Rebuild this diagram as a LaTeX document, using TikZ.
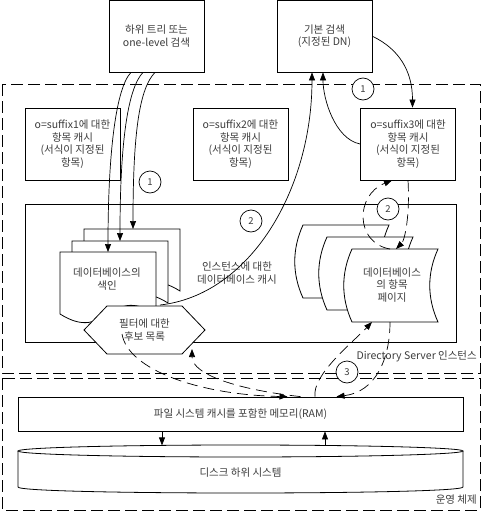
\documentclass[tikz,border=0pt]{standalone}
\usepackage{fontspec}
\setmainfont{Noto Sans CJK KR}
\usetikzlibrary{arrows.meta}
\definecolor{txt}{RGB}{60,60,60}
\tikzset{
  docpic/.pic={\draw[fill=white, line width=0.8pt] (0,0) -- (96,0) -- (96,62) .. controls (48,32) and (48,92) .. (0,62) -- cycle;},
  storepic/.pic={\draw[fill=white, line width=0.8pt] (0,0) -- (86,0) .. controls (75,24) and (75,49) .. (86,73) -- (0,73) .. controls (-11,49) and (-11,24) .. (0,0) -- cycle;}
}
\begin{document}
\begin{tikzpicture}[x=1pt,y=-1pt,
  lbl/.style={font=\fontsize{10.5}{12.5}\selectfont, text=txt, align=center, inner sep=0},
  box/.style={draw, fill=white, line width=0.8pt, lbl},
  shp/.style={draw, fill=white, line width=0.8pt},
  arr/.style={-{Triangle[length=8pt,width=6pt]}, line width=0.7pt},
  dsh/.style={dash pattern=on 12pt off 5pt, line width=0.8pt},
  darr/.style={arr, dash pattern=on 11pt off 6pt},
  num/.style={circle, draw, fill=white, line width=0.7pt, minimum size=22pt, inner sep=0, font=\fontsize{9.5}{10}\selectfont, text=txt}]
\useasboundingbox (0,0) rectangle (481,511);
% containers
\draw[dsh] (2,84) rectangle (480,373);
\draw[dsh] (2,378) rectangle (480,510);
\node[lbl, anchor=east] (dslbl) at (477,356) {Directory Server 인스턴스};
\node[lbl, anchor=east] (oslbl) at (477,500) {운영 체제};
% top boxes
\node[box, minimum width=95pt, minimum height=71.5pt] (A) at (156.5,36.25) {하위 트리 또는\\one-level 검색};
\node[box, minimum width=95pt, minimum height=71.5pt] (B) at (324.5,36.25) {기본 검색\\(지정된 DN)};
% entry caches
\node[box, minimum width=95pt, minimum height=72pt] (S1) at (72.5,144) {o=suffix1에 대한\\항목 캐시\\(서식이 지정된\\항목)};
\node[box, minimum width=95pt, minimum height=72pt] (S2) at (240.5,144) {o=suffix2에 대한\\항목 캐시\\(서식이 지정된\\항목)};
\node[box, minimum width=95pt, minimum height=72pt] (S3) at (408,144) {o=suffix3에 대한\\항목 캐시\\(서식이 지정된\\항목)};
% database cache
\node[shp, minimum width=431pt, minimum height=138pt] (cache) at (240.5,273) {};
\node[lbl] (cachelbl) at (237,273) {인스턴스에 대한\\데이터베이스 캐시};
% index documents
\pic at (84,229) {docpic};
\pic at (72,241) {docpic};
\pic at (60,252) {docpic};
\node[lbl] (idx) at (107,279) {데이터베이스의\\색인};
% entry pages
\pic at (303,225) {storepic};
\pic at (327,237) {storepic};
\pic at (352,249) {storepic};
\node[lbl] (pages) at (392,285) {데이터베이스\\의 항목\\페이지};
% hexagon
\draw[shp] (84,330) -- (107,306) -- (182,306) -- (205,330) -- (182,354) -- (107,354) -- cycle;
\node[lbl] (hex) at (144.5,330) {필터에 대한\\후보 목록};
% memory and disk
\node[box, minimum width=445pt, minimum height=34pt] (mem) at (240.5,414) {파일 시스템 캐시를 포함한 메모리(RAM)};
\fill[white] (18,451) -- (18,487) .. controls (18,495) and (463,495) .. (463,487) -- (463,451) -- cycle;
\draw[line width=0.8pt] (18,451) -- (18,487) .. controls (18,495) and (463,495) .. (463,487) -- (463,451);
\draw[shp] (240.5,451) ellipse [x radius=222.5, y radius=6];
\node[lbl] (disk) at (240.5,473) {디스크 하위 시스템};
% coordinates
\coordinate (i1) at (108,252);
\coordinate (i2) at (120,241);
\coordinate (i3) at (133,229);
\coordinate (h1) at (160,305);
\coordinate (h2) at (122,334);
\coordinate (h3) at (192,349);
\coordinate (p1) at (390,249);
\coordinate (p2) at (396,249);
\coordinate (p3) at (372,322);
\coordinate (p4) at (390,322);
\coordinate (d1) at (162,445.4);
\coordinate (d2) at (325,445.2);
% solid arrows
\draw[arr] ([xshift=-25.5pt]A.south) .. controls (116,88) and (108,152) .. (i1);
\draw[arr] ([xshift=-13.5pt]A.south) .. controls (128,88) and (120,141) .. (i2);
\draw[arr] ([xshift=-1.5pt]A.south) .. controls (140,88) and (133,129) .. (i3);
\draw[arr] (h1) .. controls (250,295) and (312,190) .. ([xshift=-12.5pt]B.south);
\draw[arr] (S3.west) .. controls (335,139) and (323,99) .. ([xshift=-1.5pt]B.south);
\draw[arr] (B.east) .. controls (399,49) and (412.5,71) .. ([xshift=4.5pt]S3.north);
\draw[arr] ([xshift=-78.5pt]mem.south) -- (d1);
\draw[arr] (d2) -- ([xshift=84.5pt]mem.south);
% dashed arrows
\draw[darr] (p1) .. controls (355,243) and (355,195) .. ([xshift=-16pt]S3.south);
\draw[darr] (S3.south) .. controls (410,215) and (405,240) .. (p2);
\draw[darr] ([xshift=74.5pt]mem.north) .. controls (312,375) and (352,343) .. (p3);
\draw[darr] (p4) .. controls (390,360) and (375,392) .. ([xshift=96pt]mem.north);
\draw[darr] (h2) .. controls (128,370) and (200,395) .. ([xshift=47pt]mem.north);
\draw[darr] ([xshift=60pt]mem.north) .. controls (240,390) and (192,375) .. (h3);
% step numbers
\node[num] (n1a) at (150,182) {1};
\node[num] (n1b) at (363,89) {1};
\node[num] (n2a) at (251,221) {2};
\node[num] (n2b) at (388,209) {2};
\node[num] (n3) at (347,372) {3};
\end{tikzpicture}
\end{document}
